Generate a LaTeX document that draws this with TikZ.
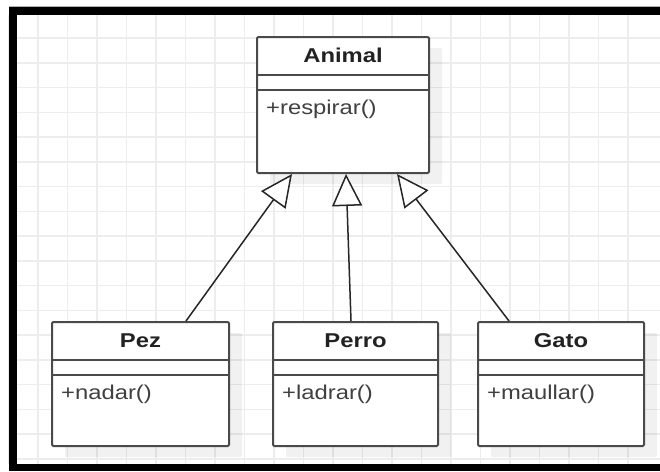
\documentclass[tikz,border=0pt]{standalone}
\usepackage{fontspec}
\newfontfamily\umlfont[FakeStretch=1.19]{Liberation Sans}
\usetikzlibrary{arrows.meta,shadows}
\definecolor{gridc}{HTML}{EDEDED}
\definecolor{boxc}{HTML}{4A4A4A}
\definecolor{titlec}{HTML}{222222}
\definecolor{methc}{HTML}{404040}
\definecolor{linec}{HTML}{262626}
\tikzset{
  umlbox/.style={draw=boxc, line width=2pt, fill=white, rounded corners=1.2pt,
    drop shadow={shadow xshift=13pt, shadow yshift=-11pt, fill=black, opacity=0.055}},
  sep/.style={draw=boxc, line width=2pt},
  umltitle/.style={anchor=base, inner sep=0pt, text=titlec, font=\umlfont\bfseries\fontsize{20}{24}\selectfont},
  umlmeth/.style={anchor=base west, inner sep=0pt, text=methc, font=\umlfont\fontsize{20}{24}\selectfont},
  inherit/.style={draw=linec, line width=1.5pt, -{Triangle[length=32pt, width=30pt, fill=white, line width=1.5pt]}}
}
\begin{document}
\begin{tikzpicture}[x=1pt,y=-1pt]
\useasboundingbox (0,0) rectangle (660,471);
\fill[white] (0,0) rectangle (660,471);
% grid
\foreach \k in {0,...,21} {
  \draw[gridc, line width=1.5pt] ({8.5+29.5*\k},15) -- ({8.5+29.5*\k},464);
}
\foreach \k in {0,...,18} {
  \draw[gridc, line width=1.5pt] (17,{13.25+24.75*\k}) -- (660,{13.25+24.75*\k});
}
% frame
\draw[gray!60, line width=1pt] (9,6.5) -- (660,6.5);
\fill[black] (9,7) rectangle (660,14.5);
\fill[black] (9,7) rectangle (17,471);
\fill[black] (9,464) rectangle (660,471);

% classes
\node[umlbox, minimum width=172pt, minimum height=136pt] (animal) at (343,105) {};
\node[umlbox, minimum width=177pt, minimum height=124pt] (pez) at (140.5,384) {};
\node[umlbox, minimum width=165pt, minimum height=124pt] (perro) at (355.5,384) {};
\node[umlbox, minimum width=166pt, minimum height=124pt] (gato) at (561,384) {};

\foreach \n in {animal,pez,perro,gato} {
  \draw[sep] ([yshift=-39pt]\n.north west) -- ([yshift=-39pt]\n.north east);
  \draw[sep] ([yshift=-54pt]\n.north west) -- ([yshift=-54pt]\n.north east);
}

\node[umltitle] (animalT) at ([yshift=-26.5pt]animal.north) {Animal};
\node[umltitle] (pezT) at ([yshift=-26.5pt]pez.north) {Pez};
\node[umltitle] (perroT) at ([yshift=-26.5pt]perro.north) {Perro};
\node[umltitle] (gatoT) at ([yshift=-26.5pt]gato.north) {Gato};

\node[umlmeth] (animalM) at ([xshift=10pt,yshift=-78pt]animal.north west) {+respirar()};
\node[umlmeth] (pezM) at ([xshift=10pt,yshift=-78pt]pez.north west) {+nadar()};
\node[umlmeth] (perroM) at ([xshift=10pt,yshift=-78pt]perro.north west) {+ladrar()};
\node[umlmeth] (gatoM) at ([xshift=10pt,yshift=-78pt]gato.north west) {+maullar()};

% generalizations
\draw[inherit] ([xshift=135pt]pez.north west) -- ([xshift=36pt]animal.south west);
\draw[inherit] ([xshift=79pt]perro.north west) -- ([xshift=90pt]animal.south west);
\draw[inherit] ([xshift=32pt]gato.north west) -- ([xshift=141pt]animal.south west);
\end{tikzpicture}
\end{document}
